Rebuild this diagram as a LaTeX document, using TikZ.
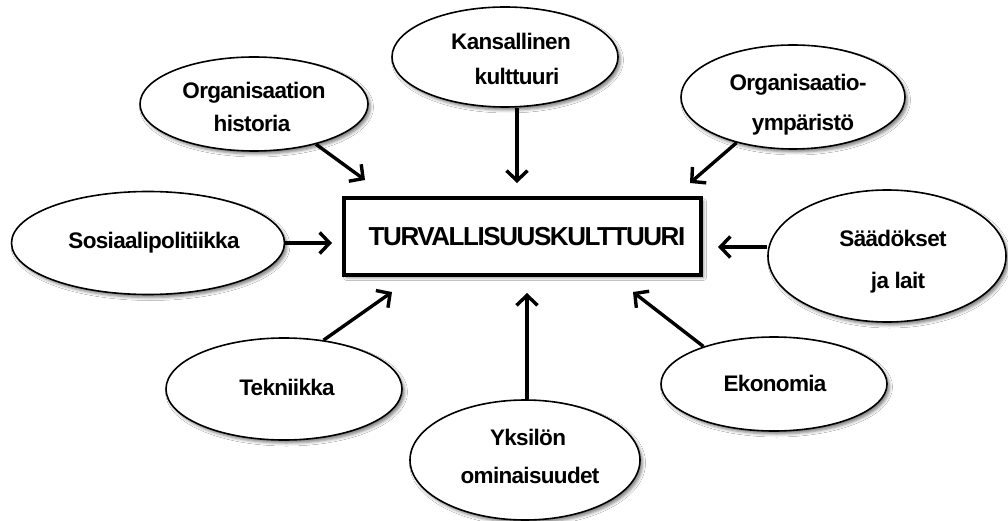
\documentclass[tikz,border=0pt]{standalone}
\usepackage{fontspec}
\setmainfont{Liberation Sans}
\newfontfamily\ellfont{Liberation Sans}[LetterSpace=-3]
\newfontfamily\boxfont{Liberation Sans}[LetterSpace=-5.5]
\usetikzlibrary{shapes.geometric,arrows.meta,shadows.blur}
\begin{document}
\begin{tikzpicture}[x=1pt,y=-1pt,
  shad/.style={blur shadow={shadow xshift=2.5pt,shadow yshift=-3pt,shadow blur radius=3pt,shadow opacity=50}},
  ell/.style={ellipse,draw,line width=1.6pt,fill=white,inner sep=0pt,shad},
  txt/.style={anchor=base,inner sep=0pt,font=\ellfont\bfseries\fontsize{22.5}{22.5}\selectfont},
  arr/.style={line width=3.4pt,-{Straight Barb[length=10pt,width=21pt]}}]
\useasboundingbox (0,0) rectangle (1008,521);
\fill[white] (0,0) rectangle (1008,521);
% ellipses
\node[ell,minimum width=228pt,minimum height=94pt] (hist) at (254,104) {};
\node[ell,minimum width=226pt,minimum height=100pt] (kans) at (505,57) {};
\node[ell,minimum width=224pt,minimum height=104pt] (ymp) at (793,97) {};
\node[ell,minimum width=273pt,minimum height=103pt] (sos) at (148,243) {};
\node[ell,minimum width=238pt,minimum height=132pt] (saad) at (887,256) {};
\node[ell,minimum width=236pt,minimum height=102pt] (tek) at (284,389) {};
\node[ell,minimum width=226pt,minimum height=94pt] (eko) at (774,384) {};
\node[ell,minimum width=230pt,minimum height=120pt] (yks) at (525,460) {};
% central box
\node[draw,line width=4pt,fill=white,minimum width=357pt,minimum height=76pt,inner sep=0pt,shad] (box) at (522.5,236.5) {};
\node[anchor=base,inner sep=0pt,font=\boxfont\bfseries\fontsize{26}{26}\selectfont] (boxtxt) at (527,245) {TURVALLISUUSKULTTUURI};
% texts
\node[txt] (t1a) at (254,99) {Organisaation};
\node[txt] (t1b) at (252,132) {historia};
\node[txt] (t2a) at (511,50) {Kansallinen};
\node[txt] (t2b) at (517,85) {kulttuuri};
\node[txt] (t3a) at (798,91) {Organisaatio-};
\node[txt] (t3b) at (803,131) {ympäristö};
\node[txt] (t4) at (154,248) {Sosiaalipolitiikka};
\node[txt] (t5a) at (893,247) {Säädökset};
\node[txt] (t5b) at (898,288) {ja lait};
\node[txt] (t6) at (287,395) {Tekniikka};
\node[txt] (t7) at (775,391) {Ekonomia};
\node[txt] (t8a) at (528,445) {Yksilön};
\node[txt] (t8b) at (530,483) {ominaisuudet};
% arrows
\coordinate (e1) at (365,180);
\coordinate (e2) at (517,183);
\coordinate (e3) at (690,183);
\coordinate (e4) at (332,243);
\coordinate (e5) at (718,247);
\coordinate (e6) at (392,292);
\coordinate (e7) at (527,293);
\coordinate (e8) at (633,292);
\draw[arr] (hist.-33) -- (e1);
\draw[arr] (kans.south -| e2) -- (e2);
\draw[arr] (ymp.-141) -- (e3);
\draw[arr] (sos.east) -- (e4);
\draw[arr] (saad.west |- e5) -- (e5);
\draw[arr] (tek.51) -- (e6);
\draw[arr] (yks.north -| e7) -- (e7);
\draw[arr] (eko.152) -- (e8);
\end{tikzpicture}
\end{document}
